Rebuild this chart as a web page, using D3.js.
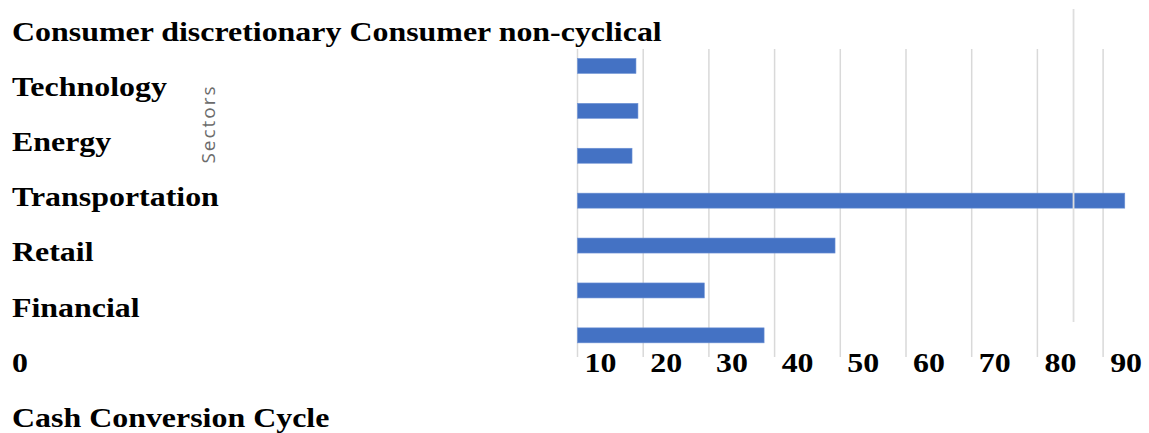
<!DOCTYPE html>
<html>
<head>
<meta charset="utf-8">
<script src="https://cdn.jsdelivr.net/npm/d3@7"></script>
<style>
  html, body { margin: 0; padding: 0; background: #fff; }
  svg { display: block; }
</style>
</head>
<body>
<svg id="chart" width="1149" height="433"></svg>
<script>
// Sector names and cash conversion cycle (days), top to bottom
const sectors = ["Consumer discretionary", "Consumer non-cyclical", "Technology", "Energy", "Transportation", "Retail", "Financial"];
const cycleDays = [8.9, 9.2, 8.3, 83.3, 39.2, 19.3, 28.4];

// Category text block on the left, one line per row
const categoryLines = ["Consumer discretionary Consumer non-cyclical", "Technology", "Energy", "Transportation", "Retail", "Financial"];

// Value axis
const tickValues = [0, 10, 20, 30, 40, 50, 60, 70, 80, 90];
const gridValues = [0, 10, 20, 30, 40, 50, 60, 70, 80];
const axisTitle = "Cash Conversion Cycle";
const sectorTitle = "Sectors";

const svg = d3.select("#chart");
const serif = "'Liberation Serif', 'Times New Roman', serif";
const stretch = 1.14;   // horizontal stretch applied to serif labels
const fontSize = 28;

const x = d3.scaleLinear().domain([0, 90]).range([577.5, 577.5 + 9 * 65.7]);
const y = d3.scaleBand().domain(sectors).range([43.5, 357.8])
  .paddingInner(0.666).paddingOuter(0.333);

// Vertical gridlines
svg.append("g").selectAll("line").data(gridValues).join("line")
  .attr("x1", d => x(d)).attr("x2", d => x(d))
  .attr("y1", 49).attr("y2", 357)
  .attr("stroke", "#d9d9d9").attr("stroke-width", 1.5);

// Bars
svg.append("g").selectAll("rect").data(sectors).join("rect")
  .attr("x", x(0))
  .attr("y", d => y(d))
  .attr("width", (d, i) => x(cycleDays[i]) - x(0))
  .attr("height", y.bandwidth())
  .attr("fill", "#4472c4")
  .attr("stroke", "#6f93d6").attr("stroke-width", 0.6);

// Stray divider line crossing the plot
svg.append("line")
  .attr("x1", x(75.5)).attr("x2", x(75.5))
  .attr("y1", 9).attr("y2", 322)
  .attr("stroke", "#dedede").attr("stroke-width", 1.8);

// Tick labels 10..90, set just right of each gridline
const axis = d3.axisBottom(x).tickValues(tickValues.slice(1)).tickSize(0).tickFormat(d3.format("d"));
const axisG = svg.append("g").attr("transform", "translate(0,372)").call(axis);
axisG.select(".domain").remove();
axisG.selectAll(".tick text")
  .attr("y", 0).attr("dy", 0)
  .attr("text-anchor", "middle")
  .attr("transform", `translate(${-(x(10) - x(0)) + 22.5},0) scale(${stretch},1)`)
  .style("font-family", serif).style("font-weight", "bold")
  .style("font-size", fontSize + "px").attr("fill", "#000");

// Left text block: category lines, zero label and axis title
const leftLines = categoryLines.concat([String(tickValues[0]), axisTitle]);
svg.append("g").selectAll("text").data(leftLines).join("text")
  .attr("transform", (d, i) => `translate(12,${41 + i * 55.1}) scale(${stretch},1)`)
  .style("font-family", serif).style("font-weight", "bold")
  .style("font-size", fontSize + "px").attr("fill", "#000")
  .text(d => d);

// Rotated sector title
svg.append("text")
  .attr("transform", "translate(215,124) rotate(-90)")
  .attr("text-anchor", "middle")
  .style("font-family", "'Open Sans', sans-serif")
  .style("font-size", "19px").style("letter-spacing", "2px")
  .attr("fill", "#6b6b6b")
  .text(sectorTitle);
</script>
</body>
</html>
